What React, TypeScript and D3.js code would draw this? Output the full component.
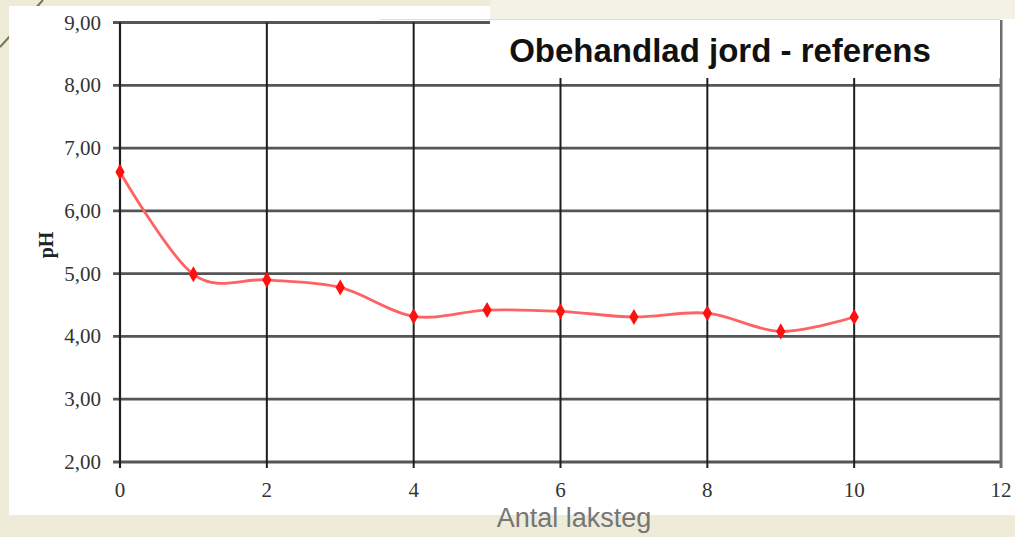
import React from "react";
import * as d3 from "d3";

const steps = [0, 1, 2, 3, 4, 5, 6, 7, 8, 9, 10];
const phValues = [6.62, 4.99, 4.9, 4.78, 4.32, 4.42, 4.4, 4.31, 4.37, 4.08, 4.31];
const xTicks = [0, 2, 4, 6, 8, 10, 12];
const yTicks = [2, 3, 4, 5, 6, 7, 8, 9];
const title = "Obehandlad jord - referens";
const xLabel = "Antal laksteg";
const yLabel = "pH";

export default function App() {
  const W = 1015, H = 537;
  const x = d3.scaleLinear().domain([0, 12]).range([120, 1001]);
  const y = d3.scaleLinear().domain([2, 9]).range([462, 22.5]);
  const line = d3
    .line<number>()
    .x((_, i) => x(steps[i]))
    .y((d) => y(d))
    .curve(d3.curveCatmullRom.alpha(0));
  const fmt = (v: number) => v.toFixed(2).replace(".", ",");
  const diamond = d3.symbol().type(d3.symbolDiamond).size(75)() as string;
  const serif = "'Liberation Serif', 'Times New Roman', serif";
  const sans = "'Liberation Sans', Arial, sans-serif";
  return (
    <svg width={W} height={H} style={{ position: "absolute", left: 0, top: 0 }}>
      <rect x={0} y={0} width={W} height={H} fill="#eeebd8" />
      <line x1={0} y1={47} x2={43} y2={0} stroke="#6b7a55" strokeWidth={2} />
      <rect x={9} y={6} width={W - 9} height={509} fill="#ffffff" />
      <rect x={490} y={0} width={W - 490} height={19} fill="#f4f2e6" />
      {/* horizontal grid */}
      {yTicks.map((t) => (
        <line key={"h" + t} x1={113} x2={1001} y1={y(t)} y2={y(t)} stroke="#555555" strokeWidth={2.8} />
      ))}
      {/* vertical grid */}
      {xTicks.slice(1, -1).map((t) => (
        <line key={"v" + t} x1={x(t)} x2={x(t)} y1={y(9)} y2={y(2) + 6} stroke="#1e1e1e" strokeWidth={2} />
      ))}
      <line x1={x(0)} x2={x(0)} y1={y(9)} y2={y(2) + 6} stroke="#1e1e1e" strokeWidth={2.2} />
      <line x1={x(12)} x2={x(12)} y1={20} y2={y(2) + 6} stroke="#6e6e6e" strokeWidth={3} />
      {/* title box */}
      <rect x={490} y={19} width={510} height={59} fill="#ffffff" />
      <line x1={380} x2={1000} y1={19.5} y2={19.5} stroke="#dddddd" strokeWidth={1} />
      <text x={720} y={62} textAnchor="middle" fontFamily={sans} fontWeight="bold" fontSize={33} fill="#111">
        {title}
      </text>
      {/* y tick labels */}
      {yTicks.map((t) => (
        <text key={"yl" + t} x={101} y={y(t) + 7} textAnchor="end" fontFamily={serif} fontSize={21} fill="#333">
          {fmt(t)}
        </text>
      ))}
      {xTicks.map((t) => (
        <text key={"xl" + t} x={x(t)} y={497} textAnchor="middle" fontFamily={serif} fontSize={21} fill="#333">
          {t}
        </text>
      ))}
      <text
        transform="translate(53,245) rotate(-90)"
        textAnchor="middle"
        fontFamily={serif}
        fontWeight="bold"
        fontSize={20}
        fill="#222"
      >
        {yLabel}
      </text>
      {/* data */}
      <path d={line(phValues) as string} fill="none" stroke="#ff6262" strokeWidth={2.8} />
      {phValues.map((v, i) => (
        <path key={"m" + i} d={diamond} transform={`translate(${x(steps[i])},${y(v)})`} fill="#ff1010" />
      ))}
      <text x={574} y={527} textAnchor="middle" fontFamily={sans} fontSize={27} fill="#767676">
        {xLabel}
      </text>
    </svg>
  );
}
